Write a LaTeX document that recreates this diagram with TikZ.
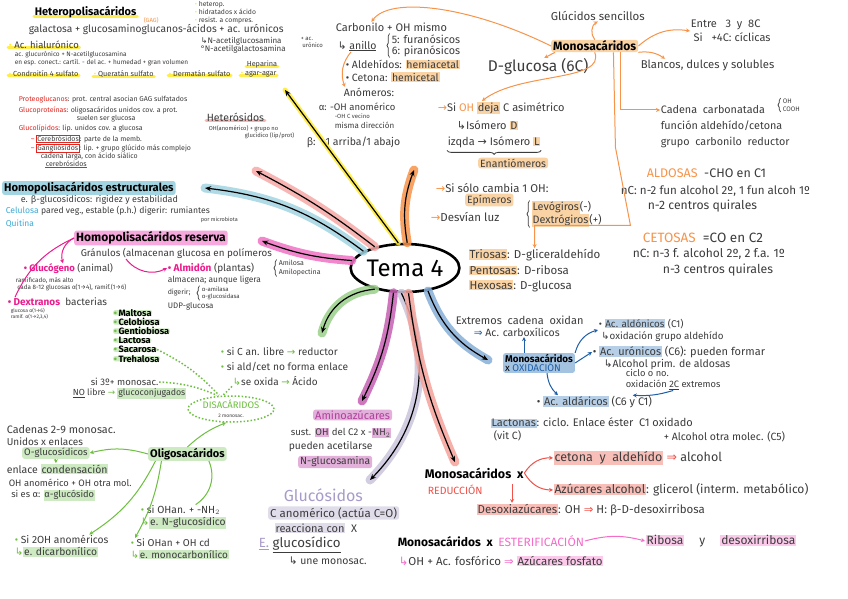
\documentclass[tikz,border=0pt]{standalone}
\usepackage{fontspec}
\setmainfont{Fira Sans}
\newfontfamily\simbolos{DejaVu Sans}
\usetikzlibrary{arrows.meta, positioning, shapes.geometric, decorations.pathreplacing, backgrounds}
\definecolor{temaInk}{HTML}{3C3C3C}
\definecolor{temaOrange}{HTML}{F7944A}
\definecolor{temaOrangeHl}{HTML}{FAD3A5}
\definecolor{temaYellow}{HTML}{FFEA2E}
\definecolor{temaRose}{HTML}{F6A9A6}
\definecolor{temaRed}{HTML}{E3251F}
\definecolor{temaCyan}{HTML}{A3D4E2}
\definecolor{temaCyanTx}{HTML}{3DAAD6}
\definecolor{temaMagenta}{HTML}{F272C6}
\definecolor{temaMagentaTx}{HTML}{EC1C8E}
\definecolor{temaMagentaHl}{HTML}{F7A8DD}
\definecolor{temaGreen}{HTML}{9BD08A}
\definecolor{temaGreenTx}{HTML}{6DBF3F}
\definecolor{temaGreenHl}{HTML}{CDEAC2}
\definecolor{temaPurple}{HTML}{C65FB3}
\definecolor{temaPurpleTx}{HTML}{B0409C}
\definecolor{temaPurpleHl}{HTML}{E2B0DA}
\definecolor{temaLav}{HTML}{CBC5DC}
\definecolor{temaLavTx}{HTML}{A99BC9}
\definecolor{temaSalmon}{HTML}{F5A39A}
\definecolor{temaSalmonTx}{HTML}{F2524A}
\definecolor{temaBlue}{HTML}{86AFD6}
\definecolor{temaBlueTx}{HTML}{1F5FA8}
\definecolor{temaPink}{HTML}{F9B4E2}
\definecolor{temaPinkTx}{HTML}{F56CC9}
\newcommand{\fsz}[1]{\fontsize{#1}{\fpeval{1.18*(#1)}}\selectfont}
\newcommand{\hlmark}[2]{{\setlength{\fboxsep}{0.8pt}\colorbox{#1}{#2}}}
\newcommand{\cajaroja}[1]{{\setlength{\fboxsep}{0.4pt}\setlength{\fboxrule}{0.7pt}\fcolorbox{temaRed}{white}{#1}}}
\newcommand{\bul}[1]{\textcolor{#1}{•}}
\newcommand{\gancho}{{\simbolos ↳}}
\newcommand{\fle}{{\simbolos →}}
\newcommand{\impl}{{\simbolos ⇒}}
\tikzset{
  mapfig/.style={x=1pt, y=-1pt, >={Stealth[length=4pt, width=4pt]}},
  txt/.style={anchor=west, inner sep=0.6pt, align=left, text=temaInk, font=\fsz{#1}},
  txt/.default=10,
  ttl/.style={txt=#1, font=\fsz{#1}\bfseries, text=black},
  hl/.style={fill=#1, rounded corners=2.5pt, inner xsep=2pt, inner ysep=1pt},
  tema/.style={ellipse, draw=black, line width=2.6pt, minimum width=98pt,
    minimum height=48pt, inner sep=0pt, font=\fsz{24}},
  % rama: banda de color con flecha negra encima
  ramaw/.style 2 args={->, >={Stealth[length=6pt, width=5pt]}, draw=black, line width=1.2pt,
    preaction={-, draw=#1, line width=#2, line cap=round, opacity=.85}},
  rama/.style={ramaw={#1}{9pt}},
  flecha/.style={->, line width=1pt, draw=#1},
  linea/.style={line width=1pt, draw=#1},
  punteado/.style={draw=temaGreenTx, line width=1.5pt, dotted},
  subraya/.style={draw=#1, line width=3pt, line cap=round, opacity=.85},
  llave/.style={decorate, decoration={brace, amplitude=2.5pt}, draw=temaInk, line width=0.7pt},
}

\begin{document}
\begin{tikzpicture}[mapfig]
  \useasboundingbox (0,0) rectangle (848,599);
  \node[tema] (Tema) at (405,268) {Tema 4};

  % heteropolisacaridos
  \node[ttl=11] (HetTitle) at (34,12) {Heteropolisacáridos};
  \node[txt=6, text=temaOrange] (Gag) at (143,20) {(GAG)};
  \node[txt=10.2] (HetDef) at (28,30) {galactosa + glucosaminoglucanos-ácidos + ac. urónicos};
  \node[txt=6.8] (HetProp) at (194,12.5) {\bul{temaYellow} heterop.\\ \bul{temaYellow} hidratados x ácido\\ \bul{temaYellow} resist. a compres.};
  \node[txt=8] (NAcet) at (200,45.5) {\gancho N-acetilglucosamina\\[-1.5pt] °N-acetilgalactosamina};
  \node[txt=6] (AcUron) at (300,42) {+ ac.\\ \ urónico};
  \node[txt=9.5] (Hial) at (8,45) {\bul{temaYellow} Ac. hialurónico};
  \node[txt=6.5] (HialDef) at (14,58.5) {ac. glucurónico + N-acetilglucosamina\\ en esp. conect.: cartíl. - del ac. + humedad + gran volumen};
  \node[txt=7.3] (Condro) at (8,74) {\bul{temaYellow} Condroitín 4 sulfato};
  \node[txt=7.3] (Querat) at (93,74) {\bul{temaYellow} Queratán sulfato};
  \node[txt=7.3] (Derma) at (168,74) {\bul{temaYellow} Dermatán sulfato};
  \node[txt=7.3] (Hepar) at (246,64) {Heparina};
  \node[txt=7.3] (Agar) at (240,74) {\bul{temaYellow} agar-agar};

  % glucoconjugados
  \node[txt=7] (Proteo) at (18,100) {\textcolor{temaRed}{Proteoglucanos}: prot. central asocian GAG sulfatados};
  \node[txt=7] (Glucoprot) at (18,114.5) {\textcolor{temaRed}{Glucoproteínas}: oligosacáridos unidos cov. a prot.\\ \hspace{58pt}suelen ser glucosa};
  \node[txt=7] (Glucolip) at (18,128.5) {\textcolor{temaRed}{Glucolípidos}: lip. unidos cov. a glucosa};
  \node[txt=7] (Cerebr) at (30,139) {\textcolor{temaRed}{–} \cajaroja{Cerebrósidos}: parte de la memb.};
  \node[txt=7] (Gangl) at (30,152) {\textcolor{temaRed}{–} \cajaroja{Gangliósidos}: lip. + grupo glúcido más complejo\\ \hspace{10pt}cadena larga, con ácido siálico};
  \node[txt=7] (Cerebr2) at (45,164) {cerebrósidos};
  \node[txt=10.5] (Heteros) at (206,117) {Heterósidos};
  \node[txt=5.8] (HeterosDef) at (208,132) {OH(anomérico) + grupo no\\ \hspace{36pt}glucídico (lip/prot)};

  % estructurales
  \node[ttl=11.2, hl=temaCyan] (EstTitle) at (2,188) {Homopolisacáridos estructurales};
  \node[txt=9] (EstDef) at (20,200) {e. β-glucosídicos: rigidez y estabilidad};
  \node[txt=8.6] (Celul) at (5,211) {\textcolor{temaCyanTx}{Celulosa} pared veg., estable (p.h.) digerir: rumiantes};
  \node[txt=5.5] (CelulB) at (200,220) {por microbiota};
  \node[txt=8.5, text=temaCyanTx] (Quit) at (5,224) {Quitina};

  % reserva
  \node[ttl=12, hl=temaMagentaHl] (ResTitle) at (74,238) {Homopolisacáridos reserva};
  \node[txt=9.8] (Granul) at (80,253) {Gránulos (almacenan glucosa en polímeros};
  \node[txt=9.5] (Gluco) at (23,269) {\textcolor{temaMagentaTx}{\bfseries • Glucógeno} (animal)};
  \node[txt=6.3] (GlucoDef) at (15,284) {ramificado, más alto\\ \ cada 8-12 glucosas α(1→4), ramif.(1→6)};
  \node[txt=10] (Dextr) at (7,302) {\textcolor{temaMagentaTx}{\bfseries • Dextranos} \ bacterias};
  \node[txt=5] (DextrDef) at (10,313.5) {glucosa α(1→6)\\ ramif. α(1→2,3,4)};
  \node[txt=10] (Almid) at (167,268) {\textcolor{temaMagentaTx}{\bfseries • Almidón} (plantas)};
  \node[txt=7] (AlmidTipos) at (278,268) {Amilosa\\ Amilopectina};
  \node[txt=8.4] (AlmidDef) at (167,280) {almacena; aunque ligera};
  \node[txt=7] (AlmidDig) at (167,293) {digerir;};
  \node[txt=6] (AlmidEnz) at (201,293) {α-amilasa\\ α-glucosidasa};
  \node[txt=8] (Udp) at (167,306) {UDP-glucosa};

  % disacaridos
  \foreach \d [count=\i] in {Maltosa,Celobiosa,Gentiobiosa,Lactosa,Sacarosa,Trehalosa}
    \node[ttl=9.2, fill=temaGreenHl, rounded corners=2pt, inner ysep=-1pt] (Disac\i) at (113,303.5+9.2*\i) {\bul{temaGreenTx}\,\d};
  \node[txt=10.2] (Reduct) at (220,352) {\bul{temaGreenTx} si C an. libre \textcolor{temaGreenTx}{\fle} reductor};
  \node[txt=10.2] (Oxida) at (220,367) {\bul{temaGreenTx} si ald/cet no forma enlace};
  \node[txt=10] (Oxida2) at (232,381) {\textcolor{temaGreenTx}{\gancho}se oxida \textcolor{temaGreenTx}{\fle} Ácido};
  \node[txt=9.5] (SiGluco) at (90,382) {si 3º+ monosac.};
  \node[txt=8.8] (NoLibre) at (72,393.5) {\underline{NO} libre \textcolor{temaGreenTx}{\fle} \hlmark{temaGreenHl}{glucoconjugados}};
  \node[ellipse, draw=temaGreenTx, dotted, line width=1.5pt, minimum width=86pt,
    minimum height=26pt, inner sep=0pt, align=center] (Disacaridos) at (231,409)
    {{\fsz{9.5}\color{temaGreenTx}DISACÁRIDOS}\\[-3pt]{\fsz{5}\color{temaInk}2 monosac.}};

  % oligosacaridos
  \node[ttl=11, hl=temaGreenHl] (Oligo) at (148,454) {Oligosacáridos};
  \node[txt=10.8] (Cadenas) at (6,430) {Cadenas 2-9 monosac.};
  \node[txt=10] (Unidos) at (6,441.5) {Unidos x enlaces};
  \node[txt=9.5, hl=temaGreenHl] (OGlu) at (22,453) {O-glucosídicos};
  \node[txt=10.5] (Enlace) at (6,469) {enlace \hlmark{temaGreenHl}{condensación}};
  \node[txt=9.3] (OhAn) at (8,490) {OH anomérico + OH otra mol.\\ \ si es α: \hlmark{temaGreenHl}{α-glucósido}};
  \node[txt=10.3] (NGlu) at (140,517) {\bul{temaGreenTx} si OHan. + -NH$_2$\\ \textcolor{temaGreenTx}{\gancho}\hlmark{temaGreenHl}{e. N-glucosídico}};
  \node[txt=10.3] (Dicarb) at (14,546) {\bul{temaGreenTx} Si 2OH anoméricos\\ \textcolor{temaGreenTx}{\gancho}\hlmark{temaGreenHl}{e. dicarbonílico}};
  \node[txt=10] (Monoc) at (130,549) {\bul{temaGreenTx} Si OHan + OH cd\\ \textcolor{temaGreenTx}{\gancho}\hlmark{temaGreenHl}{e. monocarbonílico}};

  % aminoazucares y glucosidos
  \node[txt=11, text=temaPurpleTx, hl=temaPurpleHl] (Amino) at (313,415) {Aminoazúcares};
  \node[txt=9.6] (AminoDef) at (290,433) {sust. \hlmark{temaPurpleHl}{OH} del C2 x -\hlmark{temaPurpleHl}{NH$_2$}};
  \node[txt=10.3] (AminoAc) at (288,447) {pueden acetilarse};
  \node[txt=10.3, hl=temaPurpleHl] (NGlucosam) at (298,462) {N-glucosamina};
  \node[txt=16, text=temaLavTx] (Gluc) at (283,495) {Glucósidos};
  \node[txt=11.5, hl=temaLav!60] (GlucDef) at (268,513) {C anomérico (actúa C=O)};
  \node[txt=11] (Reacc) at (274,528) {\hlmark{temaLav!60}{reacciona con} \ X};
  \node[txt=13.3] (EGlu) at (258,545) {\textcolor{temaLavTx}{\underline{E.}} \underline{glucosídico}};
  \node[txt=10.5] (Une) at (288,561) {\gancho\ une monosac.};

  % monosacaridos
  \node[txt=11.5] (GlucSenc) at (550,16) {Glúcidos sencillos};
  \node[ttl=12, hl=temaOrangeHl] (Mono) at (551,46) {Monosacáridos};
  \node[txt=11] (Entre) at (690,31) {Entre \ \ 3 \ y \ 8C\\[1pt] \ Si \ \ +4C: cíclicas};
  \node[txt=11.3] (Blancos) at (640,65) {Blancos, dulces y solubles};
  \node[txt=15.5] (DGlu) at (487,67) {D-glucosa (6C)};
  \node[txt=11] (Carbon) at (335,27) {Carbonilo + OH mismo};
  \node[txt=10.5] (Anillo) at (337,46) {\gancho\ \underline{anillo}};
  \node[txt=10.8] (AnilloTipos) at (391,45.5) {5: furanósicos\\[-1.5pt] 6: piranósicos};
  \node[txt=10.5] (Aldeh) at (345,64.5) {• Aldehídos: \hlmark{temaOrangeHl}{hemiacetal}};
  \node[txt=10.5] (Ceton) at (345,77) {• Cetona: \hlmark{temaOrangeHl}{hemicetal}};
  \node[txt=10.5] (Anom) at (343,92) {Anómeros:};
  \node[txt=9.5] (Alfa) at (318,107) {α: -OH anomérico};
  \node[txt=6] (Alfa2) at (334,116) {-OH C vecino};
  \node[txt=8] (Alfa3) at (334,125) {misma dirección};
  \node[txt=10.5] (Beta) at (306,142) {β:\hspace{10pt}1 arriba/1 abajo};
  \node[txt=11] (SiOH) at (437,108) {\textcolor{temaOrange}{\fle}Si \textcolor{temaOrange}{OH} \hlmark{temaOrangeHl}{deja} C asimétrico};
  \node[txt=11] (IsoD) at (456,125.5) {\gancho Isómero \hlmark{temaOrangeHl}{D}};
  \node[txt=11] (IsoL) at (447,142) {izqda \fle\ Isómero \hlmark{temaOrangeHl}{L}};
  \node[txt=10.5, hl=temaOrangeHl] (Enant) at (478,163) {Enantiómeros};
  \node[txt=11.3] (Epi) at (435,188) {\textcolor{temaOrange}{\fle}Si sólo cambia 1 OH:};
  \node[txt=10.5, hl=temaOrangeHl] (Epim) at (465,200) {Epímeros};
  \node[txt=11.5] (Desv) at (430,217) {\textcolor{temaOrange}{\fle}Desvían luz};
  \node[txt=10.8] (DesvTipos) at (531,214) {\hlmark{temaOrangeHl}{Levógiros}(-)\\ \hlmark{temaOrangeHl}{Dextrógiros}(+)};
  \node[txt=10.8] (Cadena) at (660,110) {Cadena \ carbonatada};
  \node[txt=6.5] (CadenaGr) at (782,105) {OH\\ COOH};
  \node[txt=10.8] (Funcion) at (660,126) {función aldehído/cetona};
  \node[txt=10.8] (Grupo) at (660,142) {grupo \ carbonilo \ reductor};
  \node[txt=12.5] (Aldosas) at (646,173) {\textcolor{temaOrange}{ALDOSAS} \ -CHO en C1};
  \node[txt=11.6] (AldDef) at (620,191) {nC: n-2 fun alcohol 2º, 1 fun alcoh 1º};
  \node[txt=12.2] (AldQ) at (647,206) {n-2 centros quirales};
  \node[txt=13.5] (Cetosas) at (642,238) {\textcolor{temaOrange}{CETOSAS} \ =CO en C2};
  \node[txt=12] (CetDef) at (632,254) {nC: n-3 f. alcohol 2º, 2 f.a. 1º};
  \node[txt=12.3] (CetQ) at (662,270) {n-3 centros quirales};
  \node[txt=11.5] (Triosas) at (468,255) {\hlmark{temaOrangeHl}{Triosas}: D-gliceraldehído};
  \node[txt=11.5] (Pentosas) at (468,270.5) {\hlmark{temaOrangeHl}{Pentosas}: D-ribosa};
  \node[txt=11.5] (Hexosas) at (468,286) {\hlmark{temaOrangeHl}{Hexosas}: D-glucosa};

  % oxidacion
  \node[txt=11] (Extremos) at (455,320) {Extremos \ cadena \ oxidan};
  \node[txt=10.5] (Carbox) at (473,332) {\textcolor{temaBlueTx}{\impl} Ac. carboxílicos};
  \node[ttl=9.8, hl=temaBlue!75, anchor=center] (Oxid) at (539,363) {Monosacáridos\\[-2pt]{\mdseries x \textcolor{temaBlueTx}{OXIDACIÓN}}};
  \node[txt=9.8] (Aldon) at (598,330) {• \hlmark{temaBlue!60}{Ac. aldónicos} (C1)\\ \ \gancho oxidación grupo aldehído};
  \node[txt=11] (Uron) at (592,352) {• \hlmark{temaBlue!60}{Ac. urónicos} (C6): pueden formar};
  \node[txt=10.5] (Uron2) at (603,365) {\gancho Alcohol prim. de aldosas};
  \node[txt=9.3] (Uron3) at (625,379.5) {ciclo o no.\\ oxidación \underline{2C} extremos};
  \node[txt=11] (Aldar) at (536,402) {• \hlmark{temaBlue!60}{Ac. aldáricos} (C6 y C1)};
  \node[txt=11] (Lacton) at (490,423) {\hlmark{temaBlue!60}{Lactonas}: ciclo. Enlace éster \ C1 oxidado};
  \node[txt=10.5] (VitC) at (493,436) {(vit C)};
  \node[txt=10.5] (Lacton2) at (663,437) {+ Alcohol otra molec. (C5)};

  % reduccion y esterificacion
  \node[ttl=12.5] (RedTitle) at (424,473) {Monosacáridos \ x};
  \node[txt=10.5, text=temaSalmonTx] (Redu) at (427,490) {REDUCCIÓN};
  \node[txt=12.5] (CetAld) at (553,458) {\hlmark{temaSalmon!70}{cetona \ y \ aldehído} \textcolor{temaSalmonTx}{\impl} alcohol};
  \node[txt=12] (AzAlc) at (553,490) {\hlmark{temaSalmon!70}{Azúcares alcohol}: glicerol (interm. metabólico)};
  \node[txt=11.5] (Desoxi) at (476,510) {\hlmark{temaSalmon!70}{Desoxiazúcares}: OH \textcolor{temaSalmonTx}{\impl} H: β-D-desoxirribosa};
  \node[ttl=12] (Ester) at (397,541) {Monosacáridos \ x \ {\mdseries\color{temaPinkTx}ESTERIFICACIÓN}};
  \node[txt=12] (Ribosa) at (645,541) {\hlmark{temaPink!70}{Ribosa} \quad y \quad \hlmark{temaPink!70}{desoxirribosa}};
  \node[txt=11.5] (Fosf) at (398,561) {\textcolor{temaPinkTx}{\gancho}OH + Ac. fosfórico \textcolor{temaPinkTx}{\impl} \hlmark{temaPink!70}{Azúcares fosfato}};

  \begin{scope}[on background layer]
    \fill[white] (0,0) rectangle (848,599);
    \foreach \n in {HetTitle,Hial,Condro,Querat,Derma,Hepar,Agar}
      \draw[subraya=temaYellow] ([yshift=2pt]\n.south west) -- ([yshift=2pt]\n.south east);
    \draw[subraya=temaRose] ([yshift=2pt]Heteros.south west) -- ([yshift=2pt]Heteros.south east);
    \draw[temaRed, line width=1pt] (Cerebr2.south west) -- (Cerebr2.south east);
  \end{scope}

  % llaves
  \foreach \n in {AnilloTipos,AlmidTipos,AlmidEnz,DesvTipos,CadenaGr}
    \draw[llave] ([xshift=-1.5pt]\n.south west) -- ([xshift=-1.5pt]\n.north west);

  % ramas desde el tema
  \coordinate (YelEnd) at (285,90);
  \coordinate (RoseEnd) at (256,171);
  \coordinate (CyanEnd) at (205,188);
  \coordinate (MagEnd) at (262,241);
  \coordinate (GreenEnd) at (322,333);
  \coordinate (PurpEnd) at (362,401);
  \coordinate (LavEnd) at (370,480);
  \coordinate (SalmEnd) at (455,462);
  \coordinate (BlueEnd) at (488,360);
  \coordinate (OrEnd) at (414,170);
  \draw[ramaw={temaYellow}{5pt}] (Tema.105) -- (YelEnd);
  \draw[rama=temaRose] (Tema.145) to[bend right=5] (RoseEnd);
  \draw[rama=temaCyan] (Tema.158) to[bend right=15] (CyanEnd);
  \draw[rama=temaMagenta] (Tema.172) to[bend left=8] (MagEnd);
  \draw[rama=temaGreen] (Tema.215) to[bend right=35] (GreenEnd);
  \draw[rama=temaPurple] (Tema.245) to[bend left=10] (PurpEnd);
  \draw[rama=temaLav] (Tema.262) to[bend left=35] (LavEnd);
  \draw[rama=temaSalmon] (Tema.278) to[bend right=8] (SalmEnd);
  \draw[rama=temaBlue] (Tema.315) to[bend right=20] (BlueEnd);
  \draw[rama=temaOrange] (Tema.85) to[bend left=15] (OrEnd);

  % flechas finas
  \draw[flecha=temaOrange] (Mono.north) to[bend left=50] (GlucSenc.south);
  \draw[flecha=temaOrange] (Mono.east) to[bend left=25] (Entre.west);
  \draw[flecha=temaOrange] (Mono.south east) to[bend left=20] ([xshift=25pt]Blancos.north west);
  \draw[flecha=temaOrange] ([xshift=4pt]Mono.south west) -- ([xshift=-45pt]DGlu.north east);
  \draw[flecha=temaOrange] (Mono.west) .. controls (470,6) and (390,-4) .. ([xshift=-20pt]Carbon.north);
  \draw[flecha=temaOrange] (Mono.south) .. controls (606,82) and (520,72) .. ([xshift=45pt]SiOH.north west);
  \draw[flecha=temaOrange] ([xshift=-18pt]Mono.south east) |- (Cadena.west);
  \draw[flecha=temaOrange] ([xshift=-25pt]Mono.south east) -- ++(2,95) -- ++(15,78) -| (Triosas.north);
  \draw[flecha=temaOrange] ([xshift=14pt]Anillo.south west) to[bend right=30] ([xshift=2pt]Anom.north west);
  \draw[decorate, decoration={brace, mirror, amplitude=4pt}, temaInk, line width=0.8pt]
    ([yshift=-2pt]IsoL.south west) -- ([yshift=-2pt]IsoL.south east);

  \draw[flecha=temaBlueTx] ([xshift=-15pt]Oxid.north) -- ([xshift=-15pt]Oxid.north |- Carbox.south);
  \draw[flecha=temaBlueTx] (Oxid.north east) to[bend left=30] (Aldon.west);
  \draw[flecha=temaBlueTx] (Oxid.east) -- (Uron.west);
  \draw[flecha=temaBlueTx] ([xshift=8pt]Oxid.south) to[bend right=20] ([xshift=22pt]Aldar.north west);
  \draw[flecha=temaBlueTx] (Uron3.south) to[bend left=10] ([xshift=-20pt]Aldar.north east);

  \draw[flecha=temaSalmonTx] (RedTitle.east) to[bend left=30] (CetAld.west);
  \draw[flecha=temaSalmonTx] (RedTitle.east) to[bend right=30] (AzAlc.west);
  \draw[flecha=temaSalmonTx] ([xshift=85pt]Redu.north west) -- ([xshift=36pt]Desoxi.north west);
  \draw[flecha=temaPinkTx] (Ester.east) to[bend left=15] (Ribosa.west);

  \draw[flecha=temaMagentaTx] (ResTitle.west) to[bend right=40] ([xshift=40pt]Gluco.north west);
  \draw[linea=temaMagentaTx] (ResTitle.west) to[bend right=20] ([xshift=8pt]Dextr.north west);
  \draw[flecha=temaMagentaTx] ([xshift=46pt]Granul.south west) to[bend right=40] (Almid.west);

  \draw[flecha=temaGreenTx] (Oligo.west) to[bend right=15] (OGlu.east);
  \draw[flecha=temaGreenTx] (OGlu.south) -- (OGlu.south |- Enlace.north);
  \draw[flecha=temaGreenTx] (Oligo.north) to[bend left=10] (Disacaridos.250);
  \draw[flecha=temaGreenTx] ([xshift=-32pt]Oligo.south) to[bend left=15] ([xshift=-20pt]Dicarb.north east);
  \draw[flecha=temaGreenTx] ([xshift=-26pt]Oligo.south) to[bend left=10] ([xshift=5pt]Monoc.north west);
  \draw[linea=temaGreenTx] ([xshift=-18pt]Oligo.south east) to[bend left=40] ([xshift=12pt]NGlu.north);
  \draw[punteado] (Disac5.east) to[bend left=10] ([xshift=-12pt]Disacaridos.north);
  \draw[punteado] (Oxida2.south west) -- ([xshift=-8pt]Disacaridos.north);
  \draw[punteado] (SiGluco.east) to[bend left=10] ([xshift=-14pt]Disacaridos.north);
\end{tikzpicture}
\end{document}
